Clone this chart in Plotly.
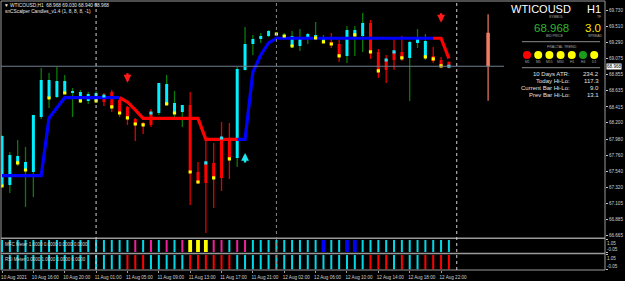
import plotly.graph_objects as go
from plotly.subplots import make_subplots

# ---------------- data ----------------
time_labels = ["10 Aug 2021", "10 Aug 16:00", "10 Aug 20:00", "11 Aug 01:00",
               "11 Aug 05:00", "11 Aug 09:00", "11 Aug 13:00", "11 Aug 17:00",
               "11 Aug 21:00", "12 Aug 02:00", "12 Aug 06:00", "12 Aug 10:00",
               "12 Aug 14:00", "12 Aug 18:00", "12 Aug 22:00"]
label_bars = [0, 4, 8, 12, 16, 20, 24, 28, 32, 36, 40, 44, 48, 52, 56]

opens = [67.342, 67.356, 67.641, 67.559, 67.532, 68.279, 68.537, 68.551, 68.605, 68.605,
         68.510, 68.496, 68.496, 68.564, 68.619, 68.510, 68.415, 68.252, 68.198, 68.333,
         68.333, 68.456, 68.333, 68.347, 68.442, 67.532, 67.655, 67.655, 67.994, 67.980,
         67.722, 68.917, 69.270, 69.338, 69.379, 69.393, 69.379, 69.243, 69.243, 69.352,
         69.352, 69.298, 69.298, 69.270, 69.108, 69.379, 69.379, 69.556, 69.162, 69.053,
         69.162, 69.162, 69.081, 69.284, 69.094, 69.108, 69.053, 69.030]
highs = [68.030, 67.804, 67.967, 67.872, 68.310, 68.945, 68.877, 68.958, 68.850, 68.673,
         68.646, 68.619, 68.632, 68.605, 68.646, 68.524, 68.429, 68.266, 68.211, 68.388,
         68.741, 68.850, 68.632, 68.442, 68.619, 67.668, 67.980, 67.926, 68.211, 68.198,
         68.958, 69.501, 69.393, 69.420, 69.461, 69.433, 69.420, 69.447, 69.474, 69.420,
         69.569, 69.393, 69.420, 69.325, 69.515, 69.515, 69.691, 69.596, 69.203, 69.121,
         69.352, 69.379, 69.311, 69.474, 69.406, 69.230, 69.094, 69.030]
lows = [67.330, 67.247, 67.614, 67.057, 67.193, 68.252, 68.401, 68.537, 68.592, 68.279,
        68.469, 68.456, 68.469, 68.429, 68.347, 68.279, 68.171, 67.953, 68.048, 68.143,
        68.306, 68.442, 68.279, 68.143, 67.084, 67.369, 66.704, 67.043, 67.274, 67.437,
        67.600, 68.910, 69.121, 69.284, 69.365, 69.379, 69.365, 69.216, 69.175, 69.270,
        69.325, 69.284, 69.216, 69.026, 69.012, 69.108, 69.162, 69.067, 68.809, 68.741,
        68.917, 69.040, 68.496, 69.216, 69.053, 69.012, 68.945, 68.940]
closes = [68.021, 67.763, 67.750, 67.668, 68.306, 68.782, 68.782, 68.768, 68.768, 68.632,
          68.619, 68.592, 68.605, 68.483, 68.415, 68.333, 68.252, 68.184, 68.171, 68.171,
          68.741, 68.727, 68.469, 68.442, 67.532, 67.383, 67.383, 67.451, 67.451, 67.709,
          68.931, 69.270, 69.338, 69.379, 69.447, 69.420, 69.393, 69.379, 69.352, 69.406,
          69.393, 69.352, 69.257, 69.094, 69.461, 69.461, 69.556, 69.162, 68.904, 68.917,
          69.053, 69.067, 69.298, 69.338, 69.311, 69.040, 68.958, 68.968]

N = None
yellow_dots = [67.342, N, 67.655, 67.559, N, N, 68.537, N, 68.605, N,
               68.496, N, 68.496, N, 68.415, 68.333, 68.266, 68.184, 68.171, N,
               N, 68.456, 68.333, N, 67.532, 67.396, N, 67.451, N, 67.709,
               N, N, N, N, N, 69.406, 69.379, 69.243, N, N,
               69.352, 69.298, 69.270, 69.108, N, 69.393, N, 69.162, 68.904, N,
               N, 69.081, N, N, 69.094, 69.067, 68.972, N]
cyan_dots = [N, N, N, N, N, N, N, N, N, N,
             N, N, N, 68.564, N, N, N, N, N, 68.333,
             N, N, N, N, N, N, 67.655, N, 67.994, N,
             N, N, N, N, N, N, N, N, N, N,
             N, N, N, N, N, N, N, N, N, 69.053,
             69.162, N, N, N, N, N, N, 68.968]

trend = [67.482, 67.482, 67.482, 67.482, 67.482, 67.482, 68.266, 68.404, 68.541, 68.541,
         68.541, 68.541, 68.541, 68.541, 68.541, 68.541, 68.483, 68.374, 68.261, 68.261,
         68.261, 68.261, 68.261, 68.261, 68.261, 68.261, 67.976, 67.976, 67.976, 67.976,
         67.976, 67.976, 68.890, 69.121, 69.284, 69.348, 69.348, 69.348, 69.348, 69.348,
         69.348, 69.348, 69.348, 69.348, 69.348, 69.348, 69.348, 69.348, 69.348, 69.348,
         69.348, 69.348, 69.348, 69.348, 69.348, 69.348, 69.348, 69.076]
trend_up = [1] * 15 + [0] * 15 + [1] * 25 + [0] * 3

sell_bars = [16, 56]
sell_tips = [68.745, 69.560]
buy_bars = [31]
buy_tips = [67.790]

# indicator panels: 0 aqua, 1 pink, 2 yellow, 3 blue / 0 aqua, 1 red
mfc_state = ([0] * 17 + [1, 0, 1, 0, 1, 0, 1, 2, 2, 2, 1, 1, 0, 1, 1] + [0] * 9 +
             [3, 0, 0, 3, 3] + [0] * 12)
rsi_state = ([0] * 16 + [1, 1, 1] + [0] * 5 + [1] * 6 + [0] * 17 +
             [1, 1, 1, 0, 1, 0, 0, 1, 1, 1, 1])
panel_min, panel_max = -0.05, 1.05

day_bar = 62
day_open, day_high, day_low, day_close = 69.424, 69.673, 68.500, 68.968

separator_bars = [12, 35, 58]
bid_price = 68.968
price_ticks = [69.730, 69.510, 69.290, 69.075, 68.855, 68.635, 68.415, 68.200,
               67.980, 67.760, 67.540, 67.320, 67.105, 66.885, 66.665]

symbol, timeframe, spread = "WTICOUSD", "H1", "3.0"
fractal_tf = ["M1", "M5", "M15", "M30", "H1", "H4", "D1"]
fractal_col = ["#ff0000", "#ffff00", "#ffff00", "#ffff00", "#ffff00", "#1a9c1a", "#ffff00"]
stat_names = ["10 Days ATR:", "Today Hi-Lo:", "Current Bar Hi-Lo:", "Prev Bar Hi-Lo:"]
stat_vals = ["234.2", "117.3", "9.0", "13.1"]

# ---------------- helpers ----------------
FONT = "Liberation Sans, Arial, sans-serif"
W, H = 625, 281
L, R, T, B = 1, 20, 1, 11
PW, PH = W - L - R, H - T - B


def PX(x):
    return (x - L) / PW


def PY(y):
    return (H - B - y) / PH


def seg(xs, a, b):
    X, Y = [], []
    for x, y0, y1 in zip(xs, a, b):
        X += [x, x, None]
        Y += [y0, y1, None]
    return X, Y


n = len(opens)
idx = list(range(n))

fig = make_subplots(rows=3, cols=1, shared_xaxes=True, vertical_spacing=0.0)

# ---- candles ----
MINB = 0.012
bull = [i for i in idx if closes[i] >= opens[i]]
bear = [i for i in idx if closes[i] < opens[i]]


def body(i):
    lo, hi = min(opens[i], closes[i]), max(opens[i], closes[i])
    if hi - lo < MINB:
        m = (hi + lo) / 2
        lo, hi = m - MINB / 2, m + MINB / 2
    return lo, hi


for group, wc, bc in [(bull, "#0a7a0a", "#00f0ff"), (bear, "#e00000", "#ff0000")]:
    X, Y = seg(group, [lows[i] for i in group], [highs[i] for i in group])
    fig.add_trace(go.Scatter(x=X, y=Y, mode="lines", line=dict(color=wc, width=1.3),
                             hoverinfo="skip"), row=1, col=1)
    X, Y = seg(group, [body(i)[0] for i in group], [body(i)[1] for i in group])
    fig.add_trace(go.Scatter(x=X, y=Y, mode="lines", line=dict(color=bc, width=3),
                             hoverinfo="skip"), row=1, col=1)

# day candle
fig.add_trace(go.Scatter(x=[day_bar, day_bar], y=[day_low, day_high], mode="lines",
                         line=dict(color="#f47b63", width=1.2), hoverinfo="skip"), row=1, col=1)
fig.add_trace(go.Scatter(x=[day_bar, day_bar], y=[day_close, day_open], mode="lines",
                         line=dict(color="#f47b63", width=3.5), hoverinfo="skip"), row=1, col=1)

# trend line
up_y = [trend[i] if (trend_up[i] or (i > 0 and trend_up[i - 1])) else None for i in idx]
dn_y = [trend[i] if ((not trend_up[i]) or (i > 0 and not trend_up[i - 1])) else None for i in idx]
fig.add_trace(go.Scatter(x=idx, y=up_y, mode="lines", line=dict(color="#0000ff", width=3.2),
                         connectgaps=False, hoverinfo="skip"), row=1, col=1)
fig.add_trace(go.Scatter(x=idx, y=dn_y, mode="lines", line=dict(color="#ff0000", width=3.2),
                         connectgaps=False, hoverinfo="skip"), row=1, col=1)

# dots
fig.add_trace(go.Scatter(x=idx, y=yellow_dots, mode="markers",
                         marker=dict(symbol="square", size=3.2, color="#ffff00"),
                         hoverinfo="skip"), row=1, col=1)
fig.add_trace(go.Scatter(x=idx, y=cyan_dots, mode="markers",
                         marker=dict(symbol="square", size=3.2, color="#30e0f0"),
                         hoverinfo="skip"), row=1, col=1)

# ---- indicator panels ----
mfc_style = {0: ("#00d8e8", 2), 1: ("#f0209a", 2), 2: ("#ffff00", 3.8), 3: ("#0000ff", 3.8)}
rsi_style = {0: ("#00d8e8", 2), 1: ("#ff0000", 2)}
for row, state, style in [(2, mfc_state, mfc_style), (3, rsi_state, rsi_style)]:
    for code, (col, wd) in style.items():
        xs = [i for i in idx if state[i] == code]
        X, Y = seg(xs, [0] * len(xs), [1] * len(xs))
        fig.add_trace(go.Scatter(x=X, y=Y, mode="lines", line=dict(color=col, width=wd),
                                 hoverinfo="skip"), row=row, col=1)

# invisible traces that carry the overlay axes for the lower panel labels
for xa, ya in [("x2", "y4"), ("x3", "y5")]:
    fig.add_trace(go.Scatter(x=[0, 0], y=[panel_min, panel_max], mode="lines",
                             line=dict(width=0, color="rgba(0,0,0,0)"), hoverinfo="skip",
                             xaxis=xa, yaxis=ya))

# ---- layout ----
xr = [-0.128, 76.91]
axfont = dict(family=FONT, size=4.6, color="#d0d0d0")
for k in ["xaxis", "xaxis2", "xaxis3"]:
    fig.layout[k].update(range=xr, showgrid=False, zeroline=False, showline=False,
                         showticklabels=False, ticks="", fixedrange=True)
fig.layout.xaxis3.update(showticklabels=True, tickvals=label_bars, ticktext=time_labels,
                         ticks="outside", ticklen=2, tickcolor="#a0a0a0",
                         tickfont=axfont, ticklabelshift=12)

fig.layout.yaxis.update(domain=[0.1216, 1.0], range=[66.6455, 69.854], side="right",
                        tickvals=price_ticks, ticktext=["%.3f" % v for v in price_ticks],
                        ticks="outside", ticklen=2, tickcolor="#c0c0c0", tickfont=axfont,
                        showgrid=False, zeroline=False, showline=False)
prange = [panel_min - 0.002, panel_max + 0.002]
common = dict(range=prange, side="right", ticks="outside", ticklen=2, tickcolor="#c0c0c0",
              tickfont=axfont, showgrid=False, zeroline=False, showline=False)
for k, dom in [("yaxis2", [0.0643, 0.1141]), ("yaxis3", [0.0, 0.0584])]:
    fig.layout[k].update(domain=dom, tickvals=[panel_max], ticktext=["%.2f" % panel_max],
                         ticklabelposition="outside bottom", **common)
fig.layout["yaxis4"] = dict(overlaying="y2", anchor="x2", tickvals=[panel_min],
                            ticktext=["%.2f" % panel_min], ticklabelposition="outside top",
                            **common)
fig.layout["yaxis5"] = dict(overlaying="y3", anchor="x3", tickvals=[panel_min],
                            ticktext=["%.2f" % panel_min], ticklabelposition="outside top",
                            **common)

shapes = []
# frame and panel separators
shapes.append(dict(type="rect", xref="paper", yref="paper", x0=0, x1=1, y0=0, y1=1,
                   line=dict(color="#9a9a9a", width=1)))
for yy in [238.3, 253.5]:
    shapes.append(dict(type="line", xref="paper", yref="paper", x0=0, x1=1,
                       y0=PY(yy), y1=PY(yy), line=dict(color="#9a9a9a", width=1.6)))
# bid line
shapes.append(dict(type="line", xref="paper", yref="y", x0=0, x1=PX(504),
                   y0=bid_price, y1=bid_price, line=dict(color="#6f7f8f", width=1)))
# period separators
for b, c in zip(separator_bars, ["#d0d0d0", "#8a8a8a", "#d0d0d0"]):
    shapes.append(dict(type="line", xref="x", yref="paper", x0=b, x1=b, y0=0, y1=1,
                       line=dict(color=c, width=1, dash="dot")))
# info panel lines
for yy in [41.7, 67.7]:
    shapes.append(dict(type="line", xref="paper", yref="paper", x0=PX(522), x1=PX(600),
                       y0=PY(yy), y1=PY(yy), line=dict(color="#8a8a8a", width=1)))
# fractal circles
cx0, dcx, cy, rr = 527, 11.2, 55, 4
for k, col in enumerate(fractal_col):
    cx = cx0 + k * dcx
    shapes.append(dict(type="circle", xref="paper", yref="paper",
                       x0=PX(cx - rr), x1=PX(cx + rr), y0=PY(cy + rr), y1=PY(cy - rr),
                       fillcolor=col, line=dict(width=0)))

ann = []


def text(x, y, s, size, color, anchor="left", xref="paper", yref="paper", **kw):
    ann.append(dict(x=x, y=y, xref=xref, yref=yref, text=s, showarrow=False,
                    xanchor=anchor, yanchor="middle",
                    font=dict(family=FONT, size=size, color=color), **kw))


text(PX(2), PY(5), "▼ %s,%s  68.968 69.030 68.940 68.968" % (symbol, timeframe), 4.8, "#e8e8e8")
text(PX(3), PY(11.5), "snCScalper Candles_v1.4 (1, 8, 8, 8, -1)", 4.8, "#e8e8e8")
text(PX(3), PY(244), "MFC Meter 1.0000 0.0000 0.0000 0.0000", 4.5, "#d8d8d8")
text(PX(3), PY(259.5), "RSI Meter 0.0000 1.0000 0.0000 0.0000", 4.5, "#d8d8d8")

text(PX(509), PY(8.5), symbol, 11, "#ffffff")
text(PX(602.5), PY(8.5), timeframe, 11, "#ffffff", anchor="right")
text(PX(556), PY(16.5), "SYMBOL", 3.4, "#a8a8a8", anchor="center")
text(PX(598.5), PY(16.5), "TF", 3.4, "#a8a8a8", anchor="center")
text(PX(532), PY(28), "%.3f" % bid_price, 11.5, "#2fb52f")
text(PX(602.5), PY(28), spread, 11.5, "#ffe600", anchor="right")
text(PX(555), PY(35.5), "BID PRICE", 3.4, "#a8a8a8", anchor="center")
text(PX(595), PY(35.5), "SPREAD", 3.4, "#a8a8a8", anchor="center")
text(PX(561.5), PY(46.5), "FRACTAL TREND", 3.6, "#a8a8a8", anchor="center")
for k, tf in enumerate(fractal_tf):
    text(PX(cx0 + k * dcx), PY(62), tf, 3.4, "#a8a8a8", anchor="center")
for k, (nm, v) in enumerate(zip(stat_names, stat_vals)):
    yy = 74 + k * 7
    text(PX(571.5), PY(yy), nm, 6, "#e0e0e0", anchor="right")
    text(PX(600.5), PY(yy), v, 6, "#e0e0e0", anchor="right")

# bid price label on the axis
ann.append(dict(x=1, y=bid_price, xref="paper", yref="y", text="%.3f" % bid_price,
                showarrow=False, xanchor="left", yanchor="middle", xshift=1,
                bgcolor="#ffffff", borderpad=0,
                font=dict(family=FONT, size=4.6, color="#000000")))

# signal arrows
for b, p in zip(sell_bars, sell_tips):
    ann.append(dict(x=b, y=p, xref="x", yref="y", text="", showarrow=True,
                    ax=0, ay=-11, arrowhead=2, arrowsize=0.65, arrowwidth=2.4,
                    arrowcolor="#ff1a1a"))
for b, p in zip(buy_bars, buy_tips):
    ann.append(dict(x=b, y=p, xref="x", yref="y", text="", showarrow=True,
                    ax=0, ay=11, arrowhead=2, arrowsize=0.65, arrowwidth=2.4,
                    arrowcolor="#20e8f0"))

fig.update_layout(width=W, height=H, margin=dict(l=L, r=R, t=T, b=B, pad=0),
                  paper_bgcolor="#000000", plot_bgcolor="#000000", showlegend=False,
                  template="none", shapes=shapes, annotations=ann, hovermode=False)
for k in ["yaxis", "yaxis2", "yaxis3", "yaxis4", "yaxis5", "xaxis", "xaxis2", "xaxis3"]:
    fig.layout[k].automargin = False

fig.write_html("out.html")
